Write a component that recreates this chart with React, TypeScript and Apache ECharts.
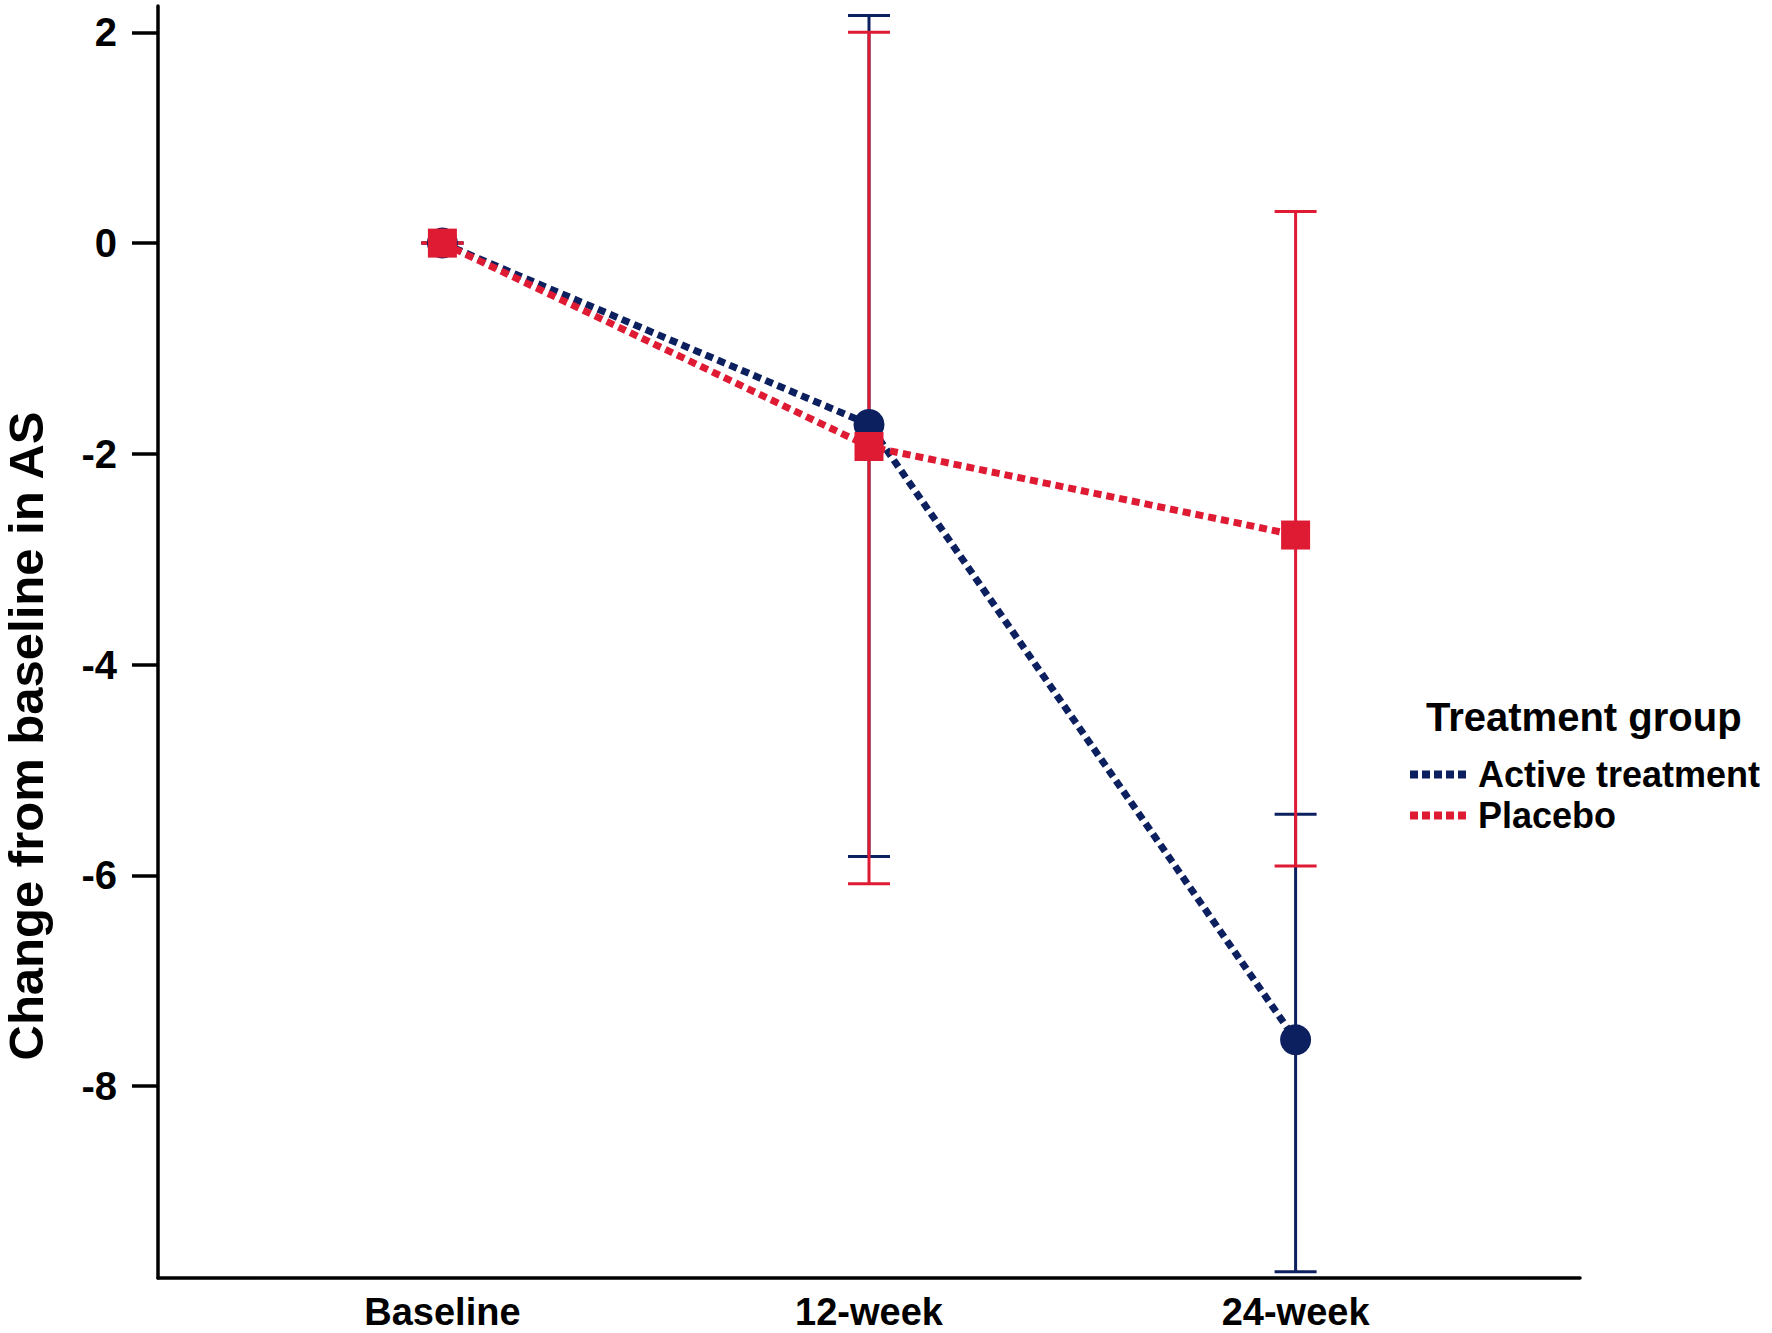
import React, { useEffect, useRef } from "react";
import * as echarts from "echarts";

const categories = ["Baseline", "12-week", "24-week"];
const xPositions = [0, 1, 2];
const activeMeans = [0, -1.72, -7.56];
const activeLower = [0, -5.82, -9.76];
const activeUpper = [0, 2.16, -5.42];
const placeboMeans = [0, -1.93, -2.77];
const placeboLower = [0, -6.08, -5.91];
const placeboUpper = [0, 2.0, 0.3];
const yTicks = [-8, -6, -4, -2, 0, 2];

const NAVY = "#0c1f5f";
const RED = "#df1b34";
const FONT = "'Liberation Sans', Arial, Helvetica, sans-serif";

function errorBarSeries(name: string, color: string, lower: number[], upper: number[], z: number) {
  return {
    type: "custom",
    name,
    z,
    silent: true,
    data: xPositions.map((x, i) => [x, lower[i], upper[i]]),
    encode: { x: 0, y: [1, 2] },
    renderItem: (params: any, api: any) => {
      const x = api.value(0);
      const lo = api.coord([x, api.value(1)]);
      const hi = api.coord([x, api.value(2)]);
      const hw = 21;
      const style = { stroke: color, lineWidth: 3 };
      return {
        type: "group",
        children: [
          { type: "line", shape: { x1: hi[0], y1: hi[1], x2: lo[0], y2: lo[1] }, style },
          { type: "line", shape: { x1: hi[0] - hw, y1: hi[1], x2: hi[0] + hw, y2: hi[1] }, style },
          { type: "line", shape: { x1: lo[0] - hw, y1: lo[1], x2: lo[0] + hw, y2: lo[1] }, style },
        ],
      };
    },
  };
}

const dotsIcon =
  "path://M0,0h8v8h-8zM12,0h8v8h-8zM24,0h8v8h-8zM36,0h8v8h-8zM48,0h8v8h-8z";

export default function App() {
  const ref = useRef<HTMLDivElement>(null);
  useEffect(() => {
    if (!ref.current) return;
    const chart = echarts.init(ref.current, null, { renderer: "svg" });
    chart.setOption({
      animation: false,
      backgroundColor: "#ffffff",
      grid: { left: 158, right: 192, top: 6, bottom: 55, containLabel: false },
      xAxis: {
        type: "value",
        min: -2 / 3,
        max: 8 / 3,
        splitLine: { show: false },
        axisLine: { show: true, onZero: false, lineStyle: { color: "#000", width: 3.5 } },
        axisTick: { show: false },
        axisLabel: {
          customValues: xPositions,
          formatter: (v: number) => categories[Math.round(v)] ?? "",
          fontFamily: FONT,
          fontWeight: "bold",
          fontSize: 38,
          lineHeight: 38,
          color: "#000",
          margin: 15,
        },
      },
      yAxis: {
        type: "value",
        min: -9.82,
        max: 2.25,
        splitLine: { show: false },
        axisLine: { show: true, onZero: false, lineStyle: { color: "#000", width: 3.5 } },
        axisTick: {
          show: true,
          customValues: yTicks,
          length: 26,
          inside: false,
          lineStyle: { color: "#000", width: 3.5 },
        },
        axisLabel: {
          customValues: yTicks,
          fontFamily: FONT,
          fontWeight: "bold",
          fontSize: 40,
          color: "#000",
          margin: 41,
        },
      },
      legend: {
        orient: "vertical",
        left: 1405,
        top: 749,
        itemGap: 0,
        itemWidth: 58,
        itemHeight: 8,
        icon: dotsIcon,
        data: ["Active treatment", "Placebo"],
        textStyle: {
          fontFamily: FONT,
          fontWeight: "bold",
          fontSize: 36,
          lineHeight: 41,
          color: "#000",
          padding: [0, 0, 0, 6],
        },
      },
      graphic: [
        {
          type: "text",
          x: 26,
          y: 736,
          rotation: Math.PI / 2,
          style: {
            text: "Change from baseline in AS",
            fontFamily: FONT,
            fontWeight: "bold",
            fontSize: 49,
            lineHeight: 46,
            fill: "#000",
            align: "center",
            verticalAlign: "middle",
          },
        },
        {
          type: "text",
          x: 1426,
          y: 717,
          style: {
            text: "Treatment group",
            fontFamily: FONT,
            fontWeight: "bold",
            fontSize: 40,
            fill: "#000",
            align: "left",
            verticalAlign: "middle",
          },
        },
      ],
      series: [
        errorBarSeries("Active CI", NAVY, activeLower, activeUpper, 1),
        errorBarSeries("Placebo CI", RED, placeboLower, placeboUpper, 2),
        {
          type: "line",
          name: "Active treatment",
          z: 3,
          data: xPositions.map((x, i) => [x, activeMeans[i]]),
          symbol: "circle",
          symbolSize: 31,
          itemStyle: { color: NAVY },
          lineStyle: { color: NAVY, width: 7, type: [8, 5], cap: "butt" },
        },
        {
          type: "line",
          name: "Placebo",
          z: 4,
          data: xPositions.map((x, i) => [x, placeboMeans[i]]),
          symbol: "rect",
          symbolSize: 29,
          itemStyle: { color: RED },
          lineStyle: { color: RED, width: 7, type: [8, 5], cap: "butt" },
        },
      ],
    });
    return () => chart.dispose();
  }, []);
  return (
    <div
      ref={ref}
      style={{ position: "absolute", left: 0, top: 0, width: 1772, height: 1333, background: "#fff" }}
    />
  );
}
